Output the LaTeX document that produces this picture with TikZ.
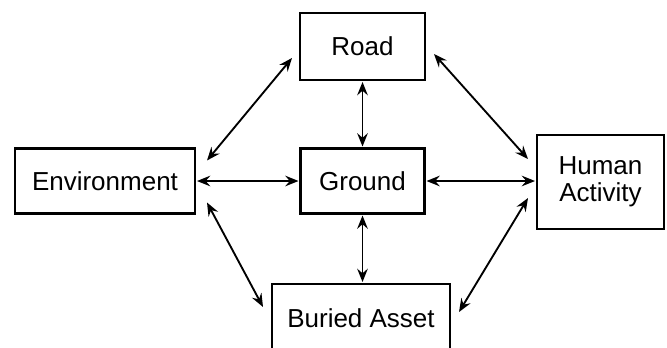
\documentclass[tikz,border=0pt]{standalone}
\usepackage{fontspec}
\setmainfont{Liberation Sans}
\usetikzlibrary{arrows.meta}

\begin{document}
\begin{tikzpicture}[x=0.75pt, y=-0.75pt,
    box/.style={draw, line width=1.6pt, inner sep=0pt, outer sep=0pt,
        align=center, font=\fontsize{19.5}{20}\selectfont},
    link/.style={<->, line width=1.4pt, shorten <=1.5pt, shorten >=1.5pt,
        >={Stealth[length=10pt, width=8pt, inset=3.5pt]}}]
    \useasboundingbox (0, 0) rectangle (667, 347);

    % Boxes
    \node[box, minimum width=93.75pt, minimum height=50.25pt] (road) at (362.5, 46.5) {Road};
    \node[box, minimum width=93pt, minimum height=48.75pt] (ground) at (362.5, 181) {Ground};
    \node[box, minimum width=135pt, minimum height=48.75pt] (env) at (105, 181) {Environment};
    \node[box, minimum width=95.25pt, minimum height=70.5pt] (human) at (600.5, 182) {Human\\Activity};
    \node[box, minimum width=133.5pt, minimum height=51pt] (buried) at (361, 318) {Buried Asset};

    % Links to Ground
    \draw[link] (env.east) -- (ground.west);
    \draw[link] (ground.east) -- (ground.east -| human.west);
    \draw[link] (road.south) -- (ground.north);
    \draw[link] (ground.south) -- (ground.south |- buried.north);

    % Diagonal links
    \draw[link, shorten <=0pt, shorten >=0pt] ([shift={(-8, 11.5)}]road.west) -- ([shift={(12, 12)}]env.north east);
    \draw[link, shorten <=0pt, shorten >=0pt] ([shift={(9, 7.5)}]road.east) -- ([shift={(-9, -23)}]human.west);
    \draw[link, shorten <=0pt, shorten >=0pt] ([shift={(12, -11)}]env.south east) -- ([shift={(-9, -11)}]buried.west);
    \draw[link, shorten <=0pt, shorten >=0pt] ([shift={(-9, 16)}]human.west) -- ([shift={(9, -6)}]buried.east);
\end{tikzpicture}
\end{document}
